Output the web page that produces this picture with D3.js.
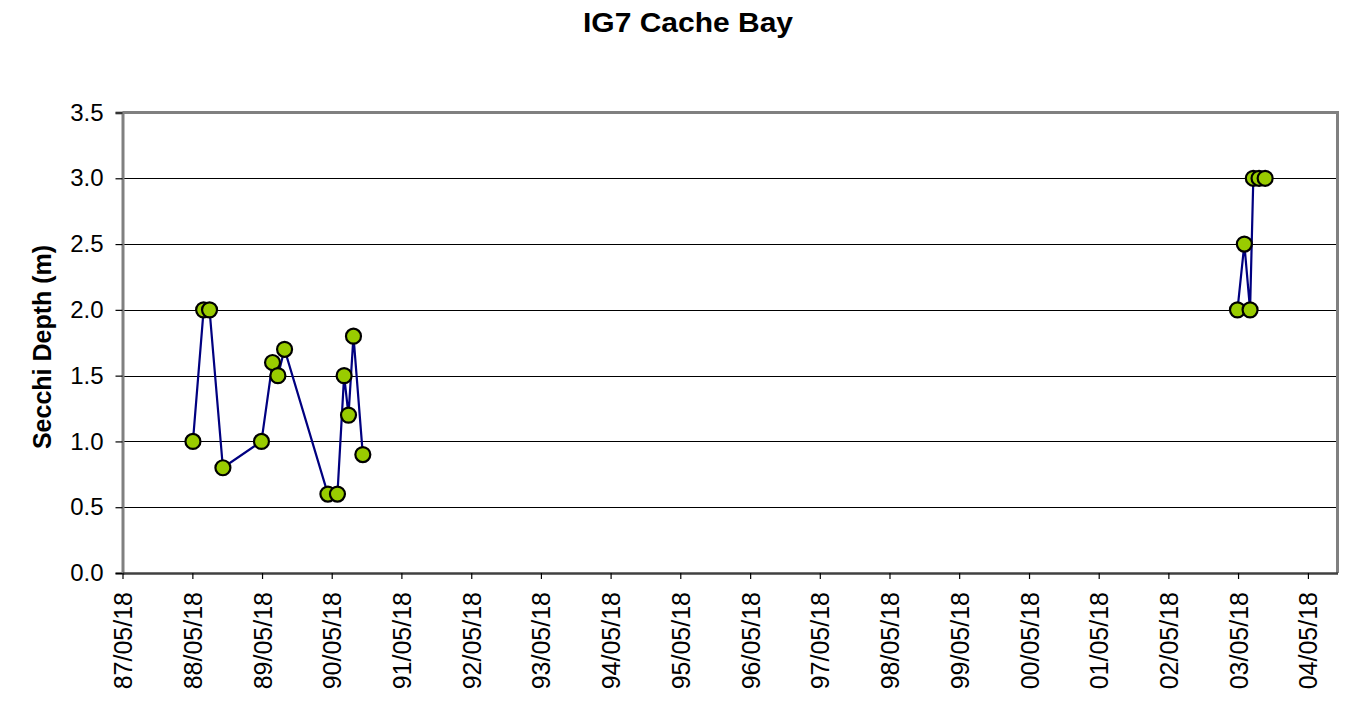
<!DOCTYPE html>
<html>
<head>
<meta charset="utf-8">
<script src="https://cdn.jsdelivr.net/npm/d3@7"></script>
<style>
  html, body { margin: 0; padding: 0; background: #fff; }
  svg { display: block; font-family: Arial, "Liberation Sans", sans-serif; }
</style>
</head>
<body>
<svg id="chart" width="1372" height="710"></svg>
<script>
// ---- data ----
const chartTitle = "IG7 Cache Bay";
const yTitle = "Secchi Depth (m)";

// first sampling period
const datesA = ["1988-05-21","1988-07-16","1988-08-16","1988-10-25","1989-05-15","1989-07-12",
                "1989-08-09","1989-09-13","1990-04-28","1990-06-17","1990-07-22","1990-08-14",
                "1990-09-09","1990-10-28"];
const depthA = [1.0, 2.0, 2.0, 0.8, 1.0, 1.6, 1.5, 1.7, 0.6, 0.6, 1.5, 1.2, 1.8, 0.9];

// second sampling period
const datesB = ["2003-05-15","2003-06-20","2003-07-20","2003-08-06","2003-09-05","2003-10-07"];
const depthB = [2.0, 2.5, 2.0, 3.0, 3.0, 3.0];

const xDomain = ["1987-05-18", "2004-10-20"];
const xTickDates = ["1987-05-18","1988-05-18","1989-05-18","1990-05-18","1991-05-18","1992-05-18",
  "1993-05-18","1994-05-18","1995-05-18","1996-05-18","1997-05-18","1998-05-18","1999-05-18",
  "2000-05-18","2001-05-18","2002-05-18","2003-05-18","2004-05-18"];
const yTicks = [0, 0.5, 1.0, 1.5, 2.0, 2.5, 3.0, 3.5];

// ---- layout ----
const svg = d3.select("#chart");
const pL = 122.5, pR = 1337.5, pT = 112.5, pB = 573;
const parse = d3.utcParse("%Y-%m-%d");
const fmt = d3.utcFormat("%y/%m/%d");

const x = d3.scaleUtc().domain(xDomain.map(parse)).range([pL, pR]);
const y = d3.scaleLinear().domain([0, 3.5]).range([pB, pT]);

// title
svg.append("text")
  .attr("x", 688).attr("y", 32)
  .attr("text-anchor", "middle")
  .attr("font-size", 28).attr("font-weight", "bold")
  .attr("textLength", 210).attr("lengthAdjust", "spacingAndGlyphs")
  .attr("fill", "#000")
  .text(chartTitle);

// gridlines
svg.append("g")
  .selectAll("line")
  .data(yTicks.filter(v => v > 0 && v < 3.5))
  .join("line")
  .attr("x1", pL).attr("x2", pR)
  .attr("y1", d => Math.round(y(d)) + 0.5).attr("y2", d => Math.round(y(d)) + 0.5)
  .attr("stroke", "#000").attr("stroke-width", 1.2);

// plot frame (top, right in gray)
svg.append("path")
  .attr("d", `M${pL},${pT}H${pR}V${pB}`)
  .attr("fill", "none").attr("stroke", "#808080").attr("stroke-width", 3);

// y axis
const yAxis = d3.axisLeft(y).tickValues(yTicks).tickFormat(d3.format(".1f")).tickSize(7).tickPadding(12);
const gy = svg.append("g").attr("transform", `translate(${pL},0)`).call(yAxis);
gy.select(".domain").attr("stroke", "#808080").attr("stroke-width", 3);
gy.selectAll(".tick line").attr("stroke", "#000").attr("stroke-width", 1.2);
gy.selectAll(".tick text").attr("font-size", 24).attr("fill", "#000")
  .attr("font-family", "Arial, 'Liberation Sans', sans-serif");

// x axis
const xAxis = d3.axisBottom(x).tickValues(xTickDates.map(parse)).tickFormat(fmt).tickSize(6).tickSizeOuter(0);
const gx = svg.append("g").attr("transform", `translate(0,${pB})`).call(xAxis);
gx.select(".domain").attr("stroke", "#404040").attr("stroke-width", 2.5);
gx.selectAll(".tick line").attr("stroke", "#000").attr("stroke-width", 1.2);
gx.selectAll(".tick text")
  .attr("font-size", 25).attr("fill", "#000")
  .attr("font-family", "Arial, 'Liberation Sans', sans-serif")
  .attr("text-anchor", "end")
  .attr("x", -19).attr("y", 0).attr("dy", "0.36em")
  .attr("transform", "rotate(-90)");

// y title
svg.append("text")
  .attr("transform", "translate(51,347) rotate(-90)")
  .attr("text-anchor", "middle")
  .attr("font-size", 25).attr("font-weight", "bold")
  .attr("fill", "#000")
  .text(yTitle);

// series
const seriesList = [
  datesA.map((d, i) => ({ date: parse(d), v: depthA[i] })),
  datesB.map((d, i) => ({ date: parse(d), v: depthB[i] }))
];
const line = d3.line().x(d => x(d.date)).y(d => y(d.v));

seriesList.forEach(s => {
  svg.append("path").datum(s)
    .attr("d", line)
    .attr("fill", "none").attr("stroke", "#000080").attr("stroke-width", 2.2);
});
seriesList.forEach(s => {
  svg.append("g").selectAll("circle").data(s).join("circle")
    .attr("cx", d => x(d.date)).attr("cy", d => y(d.v))
    .attr("r", 7.5)
    .attr("fill", "#99CC00").attr("stroke", "#000").attr("stroke-width", 2.2);
});
</script>
</body>
</html>
